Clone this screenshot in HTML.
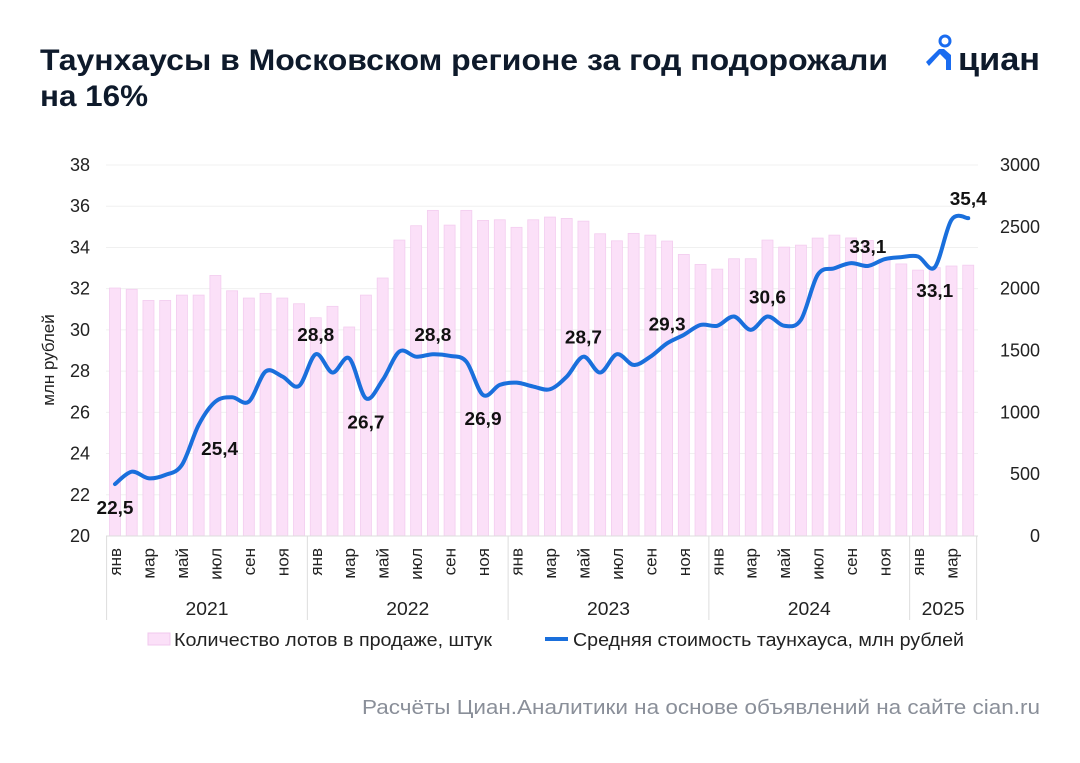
<!DOCTYPE html>
<html><head><meta charset="utf-8"><style>
body{margin:0;background:#fff;width:1080px;height:758px;overflow:hidden;font-family:"Liberation Sans","DejaVu Sans",sans-serif}
</style></head><body>
<svg width="1080" height="758" viewBox="0 0 1080 758" xmlns="http://www.w3.org/2000/svg">
<text x="40" y="70" font-size="30" font-weight="bold" fill="#0e1a2b" textLength="848" lengthAdjust="spacingAndGlyphs">Таунхаусы в Московском регионе за год подорожали</text>
<text x="40" y="106" font-size="30" font-weight="bold" fill="#0e1a2b" textLength="108" lengthAdjust="spacingAndGlyphs">на 16%</text>
<g>
<circle cx="945" cy="41" r="5" fill="none" stroke="#1a6cf0" stroke-width="3"/>
<path d="M929 66 L940 54 L946 60 L946 70 L951 70 L951 55 L944 49 L939 49 L926 62 Z" fill="#1a6cf0"/>
<text x="958" y="70" font-size="32" font-weight="bold" fill="#0e1a2b" textLength="82" lengthAdjust="spacingAndGlyphs">циан</text>
</g>
<g id="grid"></g>
<g id="bars"></g>
<g id="line"></g>
<g id="axes"></g>
<text transform="translate(54,360) rotate(-90)" text-anchor="middle" font-size="17" fill="#222">млн рублей</text>
<g>
<rect x="148" y="633" width="22" height="12" fill="#fbe0f8" stroke="#f0c8ee"/>
<text x="174" y="646" font-size="18" fill="#222" textLength="318" lengthAdjust="spacingAndGlyphs">Количество лотов в продаже, штук</text>
<line x1="545" y1="639" x2="568" y2="639" stroke="#1a6fdc" stroke-width="4"/>
<text x="573" y="646" font-size="18" fill="#222" textLength="391" lengthAdjust="spacingAndGlyphs">Средняя стоимость таунхауса, млн рублей</text>
</g>
<text x="362" y="714" font-size="20" fill="#8a8f99" textLength="678" lengthAdjust="spacingAndGlyphs">Расчёты Циан.Аналитики на основе объявлений на сайте cian.ru</text>
</svg>
<script>
const lots=[2005,1995,1905,1905,1948,1948,2107,1983,1924,1962,1924,1878,1765,1857,1690,1948,2086,2393,2509,2633,2514,2633,2552,2557,2496,2557,2579,2568,2546,2444,2387,2447,2433,2385,2277,2196,2158,2242,2242,2393,2336,2352,2409,2433,2410,2390,2240,2200,2150,2170,2183,2190];
const price=[22.52,23.12,22.8,22.96,23.45,25.39,26.52,26.73,26.52,27.98,27.74,27.28,28.82,27.93,28.62,26.68,27.57,28.95,28.7,28.82,28.74,28.46,26.84,27.33,27.44,27.25,27.12,27.73,28.7,27.93,28.82,28.3,28.7,29.35,29.76,30.24,30.2,30.65,30.0,30.65,30.2,30.49,32.67,32.99,33.24,33.1,33.43,33.53,33.56,33.04,35.34,35.42];
const monthNames=["янв","фев","мар","апр","май","июн","июл","авг","сен","окт","ноя","дек"];
const years=["2021","2022","2023","2024","2025"];
const leftTicks=[20,22,24,26,28,30,32,34,36,38];
const rightTicks=[0,500,1000,1500,2000,2500,3000];
const labels=[[0,"22,5","below"],[5,"25,4","right"],[12,"28,8","above"],[15,"26,7","below"],[19,"28,8","above"],[22,"26,9","below"],[28,"28,7","above"],[33,"29,3","above"],[39,"30,6","above"],[45,"33,1","above"],[49,"33,1","below"],[51,"35,4","above"]];
const NS="http://www.w3.org/2000/svg";
const x0=115,step=16.73,yTop=165,yBot=536;
const X=i=>x0+i*step;
const YL=v=>yBot-(v-20)/18*(yBot-yTop);
const YR=v=>yBot-v/3000*(yBot-yTop);
function mk(tag,attrs,parent,txt){const e=document.createElementNS(NS,tag);for(const k in attrs)e.setAttribute(k,attrs[k]);if(txt!==undefined)e.textContent=txt;parent.appendChild(e);return e;}
const grid=document.getElementById('grid'),bars=document.getElementById('bars'),line=document.getElementById('line'),axes=document.getElementById('axes');
leftTicks.forEach(v=>{
 const g=mk('line',{x1:106,x2:978,y1:YL(v),y2:YL(v),stroke:'#f0f0f0'},grid);
 
 
 const t=mk('text',{x:90,y:YL(v)+6,'text-anchor':'end','font-size':18,fill:'#222'},axes,String(v));
 
 
});
rightTicks.forEach(v=>{
 const t=mk('text',{x:1040,y:YR(v)+6,'text-anchor':'end','font-size':18,fill:'#222'},axes,String(v));
 
 
});
lots.forEach((v,i)=>{
 const r=mk('rect',{x:X(i)-5.5,y:YR(v),width:11,height:yBot-YR(v),fill:'#fbe0f8',stroke:'#f3cdef','stroke-width':0.8},bars);
 
 
});
let d="M"+X(0)+","+YL(price[0]);
for(let i=0;i<price.length-1;i++){
 const p0=[X(Math.max(i-1,0)),YL(price[Math.max(i-1,0)])],p1=[X(i),YL(price[i])],p2=[X(i+1),YL(price[i+1])],p3=[X(Math.min(i+2,price.length-1)),YL(price[Math.min(i+2,price.length-1)])];
 const c1=[p1[0]+(p2[0]-p0[0])/6,p1[1]+(p2[1]-p0[1])/6],c2=[p2[0]-(p3[0]-p1[0])/6,p2[1]-(p3[1]-p1[1])/6];
 d+=" C"+c1+" "+c2+" "+p2;
}
const pl=mk('path',{d:d,fill:'none',stroke:'#1a6fdc','stroke-width':4,'stroke-linejoin':'round','stroke-linecap':'round'},line);


labels.forEach(([i,txt,pos])=>{
 let x=X(i),y=YL(price[i]);
 if(pos==="above"){y-=13;}else if(pos==="below"){y+=30;}else{x+=21;y+=30;}
 const t=mk('text',{x:x,y:y,'text-anchor':'middle','font-size':18,'font-weight':'bold',fill:'#111',textLength:37,lengthAdjust:'spacingAndGlyphs'},line,txt);
 
 
});
mk('line',{x1:106,x2:978,y1:yBot,y2:yBot,stroke:'#ddd'},axes);
for(let i=0;i<lots.length;i++){
 if(i%12===0){
  const s=mk('line',{x1:X(i)-8.4,x2:X(i)-8.4,y1:yBot,y2:620,stroke:'#ddd'},axes);
  
  
 }
 if(i%2===0){
  const t=mk('text',{transform:`translate(${X(i)+6},${yBot+12}) rotate(-90)`,'text-anchor':'end','font-size':17,fill:'#222'},axes,monthNames[i%12]);
  
  
 }
}
mk('line',{x1:X(lots.length-1)+8.4,x2:X(lots.length-1)+8.4,y1:yBot,y2:620,stroke:'#ddd'},axes);
years.forEach((y,k)=>{
 const a=k*12,b=Math.min(k*12+11,lots.length-1);
 const t=mk('text',{x:(X(a)+X(b))/2,y:615,'text-anchor':'middle','font-size':18,fill:'#222',textLength:43,lengthAdjust:'spacingAndGlyphs'},axes,y);
 
 
});
</script>
</body></html>
